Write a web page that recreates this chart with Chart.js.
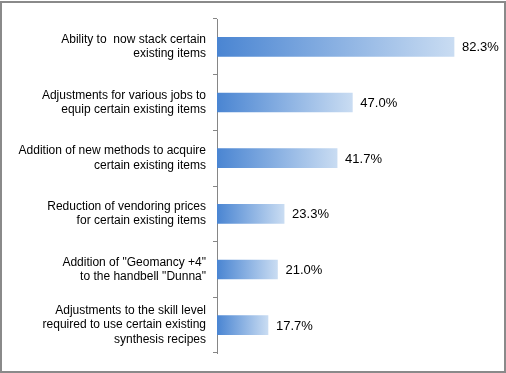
<!DOCTYPE html>
<html>
<head>
<meta charset="utf-8">
<script src="https://cdn.jsdelivr.net/npm/chart.js@4/dist/chart.umd.min.js"></script>
<style>
html,body{margin:0;padding:0;background:#fff;}
#wrap{position:relative;width:506px;height:373px;}
</style>
</head>
<body>
<div id="wrap"><canvas id="c" width="506" height="373"></canvas></div>
<script>
const categories = [
  ["Ability to  now stack certain", "existing items"],
  ["Adjustments for various jobs to", "equip certain existing items"],
  ["Addition of new methods to acquire", "certain existing items"],
  ["Reduction of vendoring prices", "for certain existing items"],
  ["Addition of \"Geomancy +4\"", "to the handbell \"Dunna\""],
  ["Adjustments to the skill level", "required to use certain existing", "synthesis recipes"]
];
const values = [82.3, 47.0, 41.7, 23.3, 21.0, 17.7];
const axisMin = 0;
const axisMax = 100;

const FONT = "'Liberation Sans', Arial, sans-serif";

const valueLabels = {
  id: 'valueLabels',
  afterDatasetsDraw(chart) {
    const ctx = chart.ctx;
    const meta = chart.getDatasetMeta(0);
    ctx.save();
    ctx.font = '13px ' + FONT;
    ctx.fillStyle = '#000';
    ctx.textAlign = 'left';
    ctx.textBaseline = 'middle';
    meta.data.forEach((el, i) => {
      ctx.fillText(values[i].toFixed(1) + '%', el.x + 8, el.y + 1);
    });
    ctx.restore();
  }
};

const frame = {
  id: 'frame',
  afterDraw(chart) {
    const ctx = chart.ctx;
    ctx.save();
    ctx.strokeStyle = '#8a8a8a';
    ctx.lineWidth = 2;
    ctx.strokeRect(1, 2, 504, 370);
    ctx.restore();
  }
};

function barGradient(context) {
  const chart = context.chart;
  if (!chart.chartArea) return '#7fa6dc';
  const xs = chart.scales.x;
  const v = values[context.dataIndex];
  const x0 = xs.getPixelForValue(0);
  const x1 = xs.getPixelForValue(v);
  const g = chart.ctx.createLinearGradient(x0, 0, x1, 0);
  g.addColorStop(0, '#4a85d2');
  g.addColorStop(1, '#c9dcf2');
  return g;
}

new Chart(document.getElementById('c'), {
  type: 'bar',
  data: {
    labels: categories,
    datasets: [{
      data: values,
      backgroundColor: barGradient,
      borderWidth: 0,
      barThickness: 19
    }]
  },
  options: {
    indexAxis: 'y',
    responsive: false,
    animation: false,
    layout: { padding: { left: 0, right: 1, top: 19, bottom: 20 } },
    plugins: { legend: { display: false }, tooltip: { enabled: false } },
    scales: {
      x: { display: false, min: axisMin, max: axisMax },
      y: {
        afterFit(scale) { scale.width = 217; scale.paddingTop = 0; scale.paddingBottom = 0; },
        border: { display: true, color: '#868686', width: 1 },
        grid: { drawOnChartArea: false, drawTicks: true, tickLength: 4, color: '#868686', offset: true },
        ticks: {
          font: { family: FONT, size: 12, lineHeight: 1.2 },
          color: '#000',
          padding: 7
        }
      }
    }
  },
  plugins: [valueLabels, frame]
});
</script>
</body>
</html>
